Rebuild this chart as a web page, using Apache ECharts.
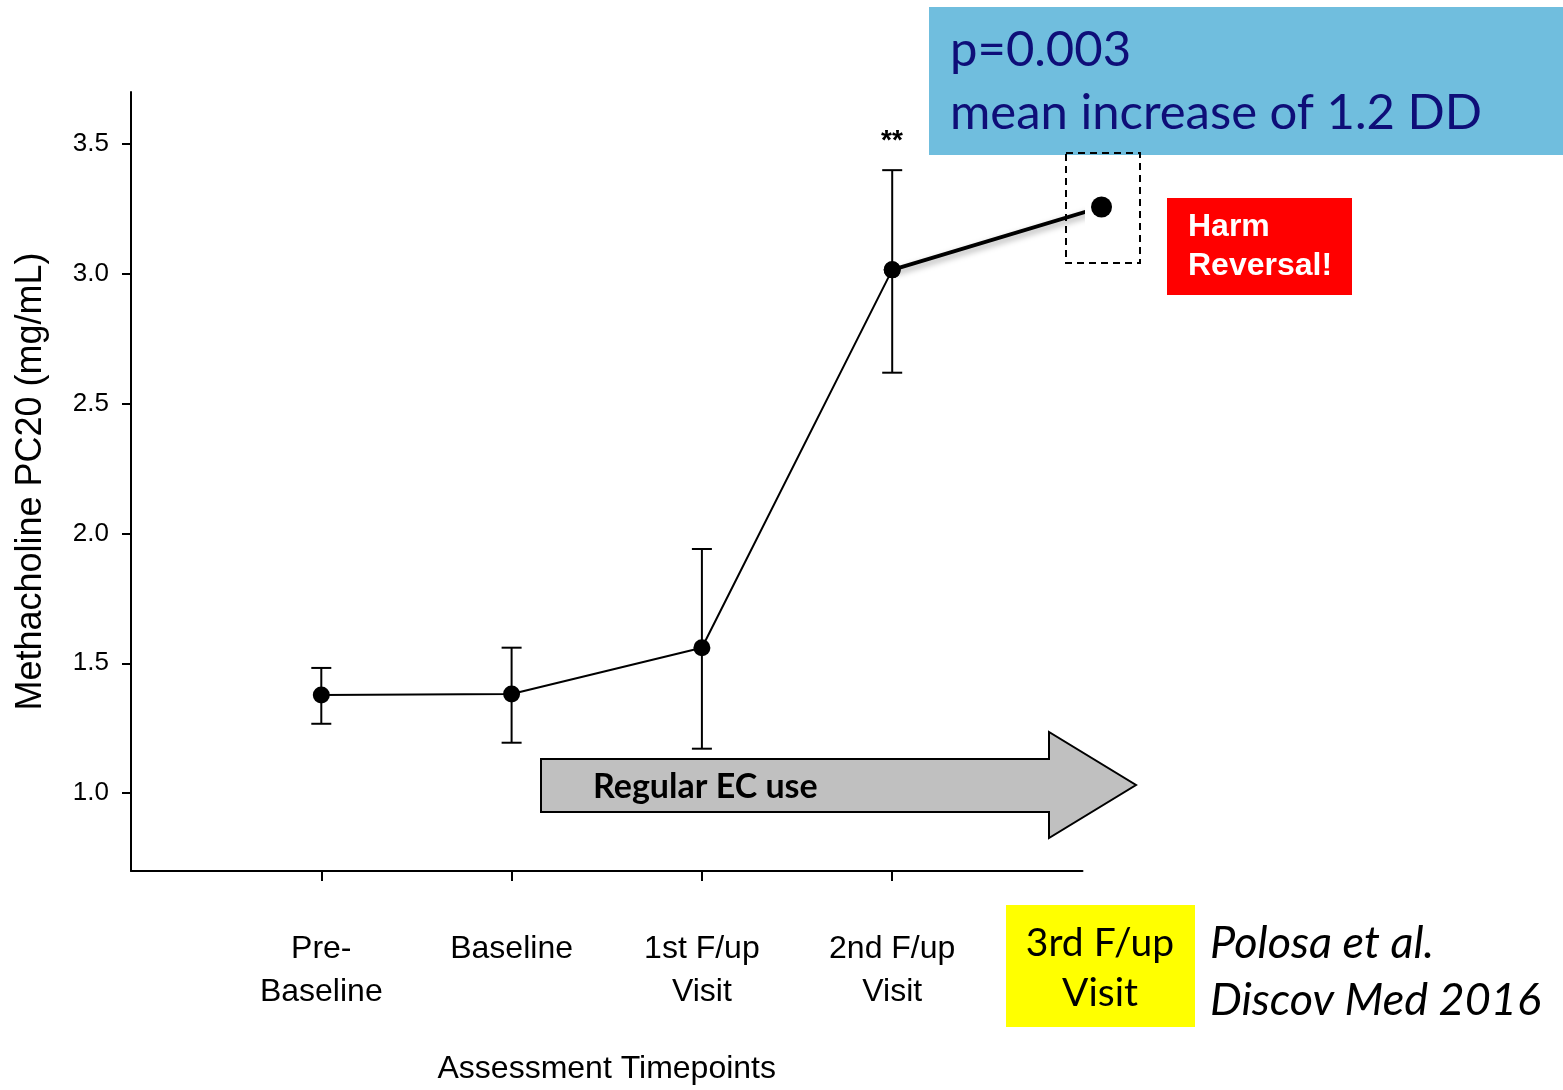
<!DOCTYPE html>
<html>
<head>
<meta charset="utf-8">
<script src="https://cdn.jsdelivr.net/npm/echarts@6/dist/echarts.min.js"></script>
<style>
  html, body { margin: 0; padding: 0; background: #fff; }
  #chart { width: 1563px; height: 1090px; }
</style>
</head>
<body>
<div id="chart"></div>
<script>
// timepoints and PC20 values
const timepoints = ['Pre-\nBaseline', 'Baseline', '1st F/up\nVisit', '2nd F/up\nVisit', '3rd F/up\nVisit']
const xPos = [1, 2, 3, 4, 5.1]
const meanPC20 = [1.378, 1.382, 1.56, 3.015, 3.257]
const errLow = [1.267, 1.194, 1.171, 2.619, null]
const errHigh = [1.482, 1.56, 1.94, 3.399, null]
const yTicks = [1.0, 1.5, 2.0, 2.5, 3.0, 3.5]

const arial = '"Liberation Sans", Arial, sans-serif'
const calibri = 'Lato, "Open Sans", sans-serif'

const firstPart = xPos.slice(0, 4).map((x, i) => [x, meanPC20[i]])
const lastPart = xPos.slice(3).map((x, i) => [x, meanPC20[i + 3]])
const errData = xPos.map((x, i) => [x, errLow[i], errHigh[i]]).filter(d => d[1] != null)

const chart = echarts.init(document.getElementById('chart'))

const option = {
  animation: false,
  grid: { left: 131, top: 92, width: 951.5, height: 780 },
  xAxis: {
    type: 'value',
    min: 0,
    max: 5,
    name: 'Assessment Timepoints',
    nameLocation: 'middle',
    nameGap: 182,
    nameTextStyle: { fontFamily: arial, fontSize: 32, color: '#000' },
    axisLine: { lineStyle: { color: '#000', width: 2 } },
    axisTick: { customValues: [1, 2, 3, 4], length: 10, lineStyle: { color: '#000', width: 2 } },
    axisLabel: {
      customValues: [1, 2, 3, 4],
      formatter: (v) => timepoints[Math.round(v) - 1],
      margin: 57,
      fontFamily: arial,
      fontSize: 32,
      lineHeight: 43,
      color: '#000',
      verticalAlign: 'top'
    },
    splitLine: { show: false }
  },
  yAxis: {
    type: 'value',
    min: 0.7,
    max: 3.7,
    name: 'Methacholine PC20 (mg/mL)',
    nameLocation: 'middle',
    nameGap: 82,
    nameTextStyle: { fontFamily: arial, fontSize: 36, color: '#000' },
    axisLine: { lineStyle: { color: '#000', width: 2 } },
    axisTick: { customValues: yTicks, length: 9, lineStyle: { color: '#000', width: 2 } },
    axisLabel: {
      customValues: yTicks,
      formatter: (v) => v.toFixed(1),
      margin: 22,
      fontFamily: arial,
      fontSize: 26,
      color: '#000'
    },
    splitLine: { show: false }
  },
  series: [
    {
      type: 'custom',
      clip: false,
      renderItem: (params, api) => {
        const top = api.coord([api.value(0), api.value(2)])
        const bot = api.coord([api.value(0), api.value(1)])
        const half = 10
        const st = { stroke: '#000', lineWidth: 2 }
        return {
          type: 'group',
          children: [
            { type: 'line', shape: { x1: top[0], y1: top[1], x2: bot[0], y2: bot[1] }, style: st },
            { type: 'line', shape: { x1: top[0] - half, y1: top[1], x2: top[0] + half, y2: top[1] }, style: st },
            { type: 'line', shape: { x1: bot[0] - half, y1: bot[1], x2: bot[0] + half, y2: bot[1] }, style: st }
          ]
        }
      },
      data: errData,
      z: 2
    },
    {
      type: 'line',
      data: firstPart,
      symbol: 'circle',
      symbolSize: 17,
      itemStyle: { color: '#000' },
      lineStyle: { color: '#000', width: 2 },
      z: 3
    },
    {
      type: 'line',
      data: lastPart,
      clip: false,
      symbol: 'circle',
      symbolSize: (v, p) => p.dataIndex === 1 ? 21 : 17,
      itemStyle: { color: '#000' },
      lineStyle: {
        color: '#000',
        width: 4,
        shadowColor: 'rgba(0,0,0,0.35)',
        shadowBlur: 6,
        shadowOffsetX: 2,
        shadowOffsetY: 3
      },
      z: 4
    }
  ],
  graphic: [
    // blue stats box
    { type: 'rect', shape: { x: 929, y: 7, width: 634, height: 148 }, style: { fill: '#70BEDE' }, z: 10 },
    {
      type: 'text', z: 11,
      style: {
        x: 950, y: 82, text: 'p=0.003\nmean increase of 1.2 DD',
        font: '49px ' + calibri, fill: '#0E0E78', lineHeight: 63, verticalAlign: 'middle'
      }
    },
    // dashed box around last point
    { type: 'rect', shape: { x: 1066, y: 153, width: 74, height: 110 }, style: { fill: 'none', stroke: '#000', lineWidth: 2, lineDash: [7, 5] }, z: 10 },
    // harm reversal badge
    { type: 'rect', shape: { x: 1167, y: 198, width: 185, height: 97 }, style: { fill: '#FF0000' }, z: 10 },
    {
      type: 'text', z: 11,
      style: {
        x: 1188, y: 247, text: 'Harm\nReversal!',
        font: 'bold 32px ' + arial, fill: '#fff', lineHeight: 39, verticalAlign: 'middle'
      }
    },
    // significance marker
    {
      type: 'text', z: 11,
      style: { x: 892, y: 141, text: '**', font: 'bold 28px ' + arial, fill: '#000', align: 'center', verticalAlign: 'middle' }
    },
    // regular EC use arrow
    {
      type: 'polygon', z: 1,
      shape: { points: [[541, 759], [1049, 759], [1049, 732], [1136, 785], [1049, 838], [1049, 812], [541, 812]] },
      style: { fill: '#C0C0C0', stroke: '#000', lineWidth: 2 }
    },
    {
      type: 'text', z: 11,
      style: { x: 593, y: 787, text: 'Regular EC use', font: 'bold 34px ' + calibri, fill: '#000', verticalAlign: 'middle' }
    },
    // last timepoint label, highlighted
    { type: 'rect', shape: { x: 1006, y: 905, width: 189, height: 122 }, style: { fill: '#FFFF00' }, z: 10 },
    {
      type: 'text', z: 11,
      style: {
        x: 1100, y: 968, text: timepoints[4],
        font: '39px ' + calibri, fill: '#000', align: 'center', verticalAlign: 'middle', lineHeight: 50
      }
    },
    // citation
    {
      type: 'text', z: 11,
      style: {
        x: 1210, y: 972, text: 'Polosa et al.\nDiscov Med 2016',
        font: 'italic 45px ' + calibri, fill: '#000', verticalAlign: 'middle', lineHeight: 57
      }
    }
  ]
}

chart.setOption(option)
window.addEventListener('resize', () => chart.resize())
</script>
</body>
</html>
